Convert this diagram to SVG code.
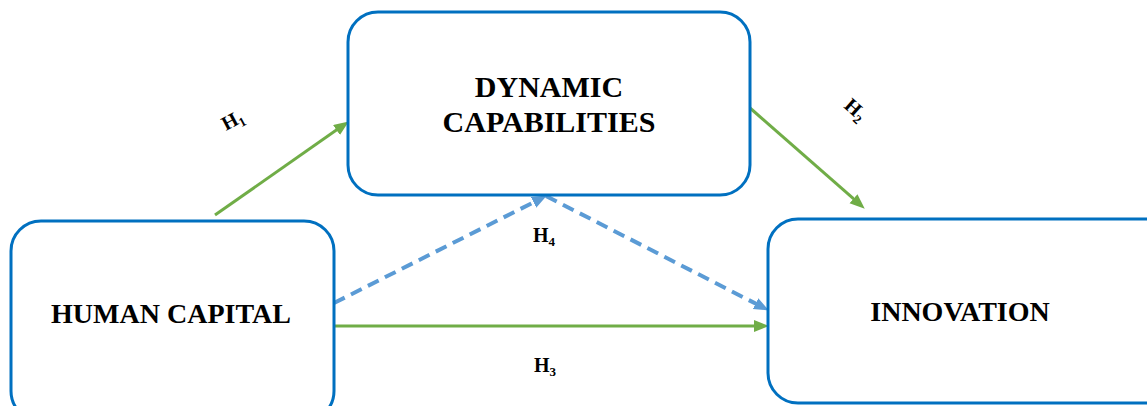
<svg xmlns="http://www.w3.org/2000/svg" width="1147" height="406" viewBox="0 0 1147 406">
<style>
.box{fill:#fff;stroke:#0070C0;stroke-width:3}
.lbl{font-family:"Liberation Serif",serif;font-weight:bold;fill:#000}
.g{stroke:#70AD47;stroke-width:3;fill:none}
.b{stroke:#5B9BD5;stroke-width:4;fill:none;stroke-dasharray:12 7}
.h{font-family:"Liberation Serif",serif;font-weight:bold;font-size:20px;fill:#000}
.s{font-size:13px}
</style>
<defs>
<marker id="ag" markerUnits="userSpaceOnUse" markerWidth="16" markerHeight="14" refX="6" refY="6" orient="auto"><path d="M0,0 L15,6 L0,12 z" fill="#70AD47"/></marker>
<marker id="ab" markerUnits="userSpaceOnUse" markerWidth="16" markerHeight="14" refX="6" refY="6" orient="auto"><path d="M0,0 L15,6 L0,12 z" fill="#5B9BD5"/></marker>
</defs>
<g id="connectors">
<line class="g" x1="215" y1="215" x2="341.4" y2="126.6" marker-end="url(#ag)"/>
<line class="g" x1="750" y1="108" x2="858" y2="202.7" marker-end="url(#ag)"/>
<line class="g" x1="334" y1="326" x2="760" y2="326" marker-end="url(#ag)"/>
<line class="b" x1="334" y1="303" x2="538.9" y2="199.6" marker-end="url(#ab)"/>
<line class="b" x1="546" y1="196" x2="760.9" y2="306.3" marker-end="url(#ab)"/>
</g>
<g id="node-dynamic">
<rect class="box" x="348" y="12" width="402" height="183" rx="30"/>
<text class="lbl" font-size="30" x="549" y="97" text-anchor="middle">DYNAMIC</text>
<text class="lbl" font-size="30" x="549" y="132" text-anchor="middle">CAPABILITIES</text>
</g>
<g id="node-human">
<rect class="box" x="11" y="221" width="323" height="200" rx="30"/>
<text class="lbl" font-size="28" x="171" y="323" text-anchor="middle">HUMAN CAPITAL</text>
</g>
<g id="node-innovation">
<rect class="box" x="768" y="219" width="420" height="184" rx="30"/>
<text class="lbl" font-size="28" x="960" y="321" text-anchor="middle">INNOVATION</text>
</g>
<g id="labels">
<text class="h" transform="translate(226,131) rotate(-28)">H<tspan class="s" dy="4">1</tspan></text>
<text class="h" transform="translate(843,107) rotate(42)">H<tspan class="s" dy="4">2</tspan></text>
<text class="h" x="534" y="372">H<tspan class="s" dy="4">3</tspan></text>
<text class="h" x="533" y="242">H<tspan class="s" dy="4">4</tspan></text>
</g>
</svg>
